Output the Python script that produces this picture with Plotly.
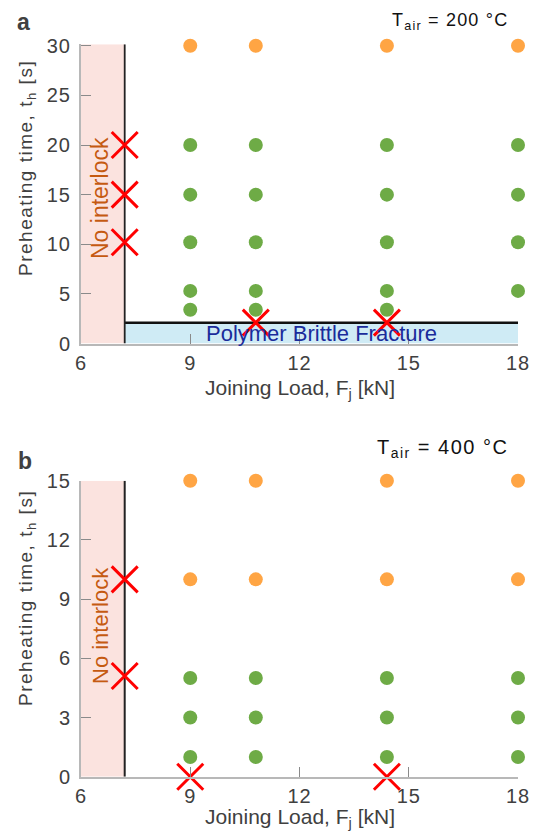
import plotly.graph_objects as go

# ---------------- data ----------------
# Panel a (T_air = 200 °C)
a_loads = [9, 10.8, 14.4, 18]
a_orange_t = [30]
a_green_t = [20, 15, 10.2, 5.3]
a_green_low_loads = [9, 10.8, 14.4]
a_green_low_t = [3.4]
a_cross_x = [7.2, 7.2, 7.2, 10.8, 14.4]
a_cross_t = [20, 15, 10.2, 2.1, 2.1]
a_interlock_limit = 7.2
a_brittle_limit = 2.1
a_ymax = 30.15

# Panel b (T_air = 400 °C)
b_loads = [9, 10.8, 14.4, 18]
b_orange_t = [15, 10]
b_green_t = [5, 3, 1]
b_cross_x = [7.2, 7.2, 9, 14.4]
b_cross_t = [10, 5.1, 0, 0]
b_interlock_limit = 7.2
b_ymax = 15

x_ticks = [6, 9, 12, 15, 18]
a_y_ticks = [0, 5, 10, 15, 20, 25, 30]
b_y_ticks = [0, 3, 6, 9, 12, 15]

# ---------------- style ----------------
ORANGE = "#FFA544"
GREEN = "#6EAB46"
RED = "#FF0000"
PINK = "#FBE3DF"
BLUE = "#CFEBF5"
TXT = "#404040"
FONT = "Liberation Sans, Arial, sans-serif"

W, H = 536, 833
ML, MR = 81, 536 - 518
PW = W - ML - MR

def px_x(px):
    return (px - ML) / PW

def px_y(py):
    return (H - py) / H

fig = go.Figure()

def add_points(xs, ys, color, xa, ya):
    fig.add_trace(go.Scatter(
        x=xs, y=ys, mode="markers", xaxis=xa, yaxis=ya, cliponaxis=False,
        marker=dict(symbol="circle", size=14, color=color, line=dict(width=0)),
        showlegend=False, hoverinfo="skip"))

def grid(loads, times):
    xs, ys = [], []
    for t in times:
        for f in loads:
            xs.append(f)
            ys.append(t)
    return xs, ys

# panel a
xs, ys = grid(a_loads, a_orange_t)
add_points(xs, ys, ORANGE, "x", "y")
xs, ys = grid(a_loads, a_green_t)
add_points(xs, ys, GREEN, "x", "y")
xs, ys = grid(a_green_low_loads, a_green_low_t)
add_points(xs, ys, GREEN, "x", "y")
fig.add_trace(go.Scatter(
    x=a_cross_x, y=a_cross_t, mode="markers", xaxis="x", yaxis="y", cliponaxis=False,
    marker=dict(symbol="x-thin", size=26, line=dict(width=3, color=RED)),
    showlegend=False, hoverinfo="skip"))

# panel b
xs, ys = grid(b_loads, b_orange_t)
add_points(xs, ys, ORANGE, "x2", "y2")
xs, ys = grid(b_loads, b_green_t)
add_points(xs, ys, GREEN, "x2", "y2")
fig.add_trace(go.Scatter(
    x=b_cross_x, y=b_cross_t, mode="markers", xaxis="x2", yaxis="y2", cliponaxis=False,
    marker=dict(symbol="x-thin", size=26, line=dict(width=3, color=RED)),
    showlegend=False, hoverinfo="skip"))

shapes = [
    dict(type="rect", xref="x", yref="y", x0=x_ticks[0], x1=a_interlock_limit, y0=0, y1=a_ymax,
         fillcolor=PINK, line=dict(width=0), layer="below"),
    dict(type="rect", xref="x", yref="y", x0=a_interlock_limit, x1=x_ticks[-1], y0=0, y1=a_brittle_limit,
         fillcolor=BLUE, line=dict(width=0), layer="below"),
    dict(type="line", xref="x", yref="y", x0=a_interlock_limit, x1=x_ticks[-1], y0=a_brittle_limit, y1=a_brittle_limit,
         line=dict(color="#111111", width=2.5), layer="below"),
    dict(type="line", xref="x", yref="y", x0=a_interlock_limit, x1=a_interlock_limit, y0=0, y1=a_ymax,
         line=dict(color="#222222", width=1.8), layer="below"),
    dict(type="rect", xref="x2", yref="y2", x0=x_ticks[0], x1=b_interlock_limit, y0=0, y1=b_ymax,
         fillcolor=PINK, line=dict(width=0), layer="below"),
    dict(type="line", xref="x2", yref="y2", x0=b_interlock_limit, x1=b_interlock_limit, y0=0, y1=b_ymax,
         line=dict(color="#222222", width=2), layer="below"),
]

def ann(text, x, y, size, color=TXT, angle=0, xanchor="center", bold=False, xref="paper", yref="paper"):
    return dict(text=("<b>%s</b>" % text) if bold else text, x=x, y=y, xref=xref, yref=yref,
                xanchor=xanchor, yanchor="middle", showarrow=False, textangle=angle,
                font=dict(family=FONT, size=size, color=color))

ytitle = '<span style="letter-spacing:1.5px">Preheating time, t<sub>h</sub> [s]</span>'
annotations = [
    ann("a", px_x(23), px_y(22), 23, bold=True),
    ann("b", px_x(25), px_y(461), 23, bold=True),
    ann('<span style="letter-spacing:1.2px">T<sub>air</sub> = 200 °C</span>', px_x(510), px_y(21), 18,
        color="#111111", xanchor="right"),
    ann('<span style="letter-spacing:1.5px">T<sub>air</sub> = 400 °C</span>', px_x(510), px_y(448), 20,
        color="#111111", xanchor="right"),
    ann("Joining Load, F<sub>j</sub> [kN]", px_x(300), px_y(389), 21),
    ann("Joining Load, F<sub>j</sub> [kN]", px_x(300), px_y(818), 21),
    ann(ytitle, px_x(27), px_y(168), 19, angle=-90),
    ann(ytitle, px_x(27), px_y(598), 19, angle=-90),
    ann("No interlock", px_x(100), px_y(198), 23, color="#C55A11", angle=-90),
    ann("No interlock", px_x(100), px_y(626), 22, color="#C55A11", angle=-90),
    ann("Polymer Brittle Fracture", (a_interlock_limit + x_ticks[-1]) / 2, a_brittle_limit / 2, 22,
        color="#1A2B9B", xref="x", yref="y"),
]

def ticktext(vals):
    return ['<span style="letter-spacing:1px">%g</span>' % v for v in vals]

axis_common = dict(showline=True, linecolor="#B8B8B8", linewidth=2, ticks="inside", ticklen=10,
                   tickwidth=1.3, tickcolor="#8A8A8A", showgrid=False, zeroline=False,
                   tickfont=dict(family=FONT, size=20, color=TXT), mirror=False, automargin=False,
                   ticklabeloverflow="allow")

fig.update_layout(
    width=W, height=H,
    margin=dict(l=ML, r=MR, t=0, b=0, autoexpand=False),
    paper_bgcolor="white", plot_bgcolor="white",
    showlegend=False,
    xaxis=dict(domain=[0, 1], range=[6, 18], tickvals=x_ticks, ticktext=ticktext(x_ticks), anchor="y",
               ticklabelstandoff=0, **axis_common),
    yaxis=dict(domain=[px_y(343.5), px_y(44.3)], range=[0, a_ymax], tickvals=a_y_ticks,
               ticktext=ticktext(a_y_ticks), anchor="x", ticklabelstandoff=4, **axis_common),
    xaxis2=dict(domain=[0, 1], range=[6, 18], tickvals=x_ticks, ticktext=ticktext(x_ticks), anchor="y2",
                ticklabelstandoff=0, **axis_common),
    yaxis2=dict(domain=[px_y(776.7), px_y(480.7)], range=[0, b_ymax], tickvals=b_y_ticks,
                ticktext=ticktext(b_y_ticks), anchor="x2", ticklabelstandoff=4, **axis_common),
    shapes=shapes,
    annotations=annotations,
)

# remove the browser's default 8px body margin so the figure fills the window exactly
fig.write_html("out.html",
               config={"displayModeBar": False},
               post_script="document.body.style.margin='0px';document.body.style.overflow='hidden';")
